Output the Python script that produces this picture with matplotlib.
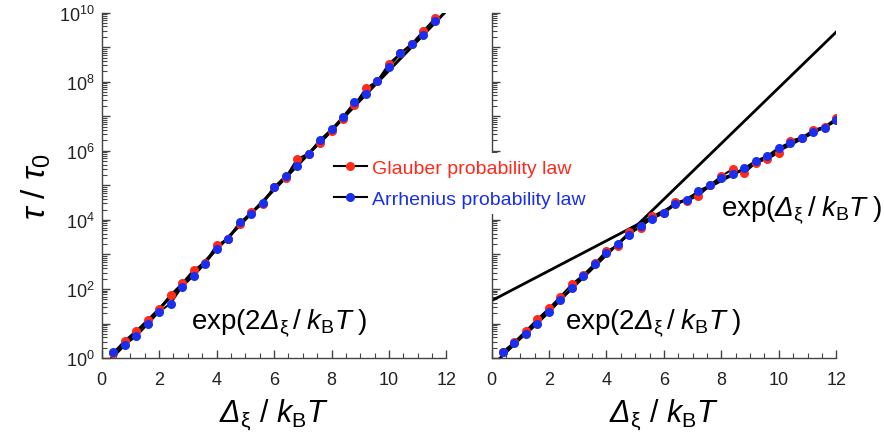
import numpy as np
import matplotlib
matplotlib.use("Agg")
import matplotlib.pyplot as plt
from matplotlib.lines import Line2D
from matplotlib.ticker import LogLocator, FixedLocator, MultipleLocator, NullFormatter, FuncFormatter

plt.rcParams['font.family'] = ['Liberation Sans', 'DejaVu Sans']
plt.rcParams['mathtext.fontset'] = 'custom'
plt.rcParams['mathtext.rm'] = 'Liberation Sans'
plt.rcParams['mathtext.it'] = 'Liberation Sans:italic'
plt.rcParams['mathtext.bf'] = 'Liberation Sans:bold'
# sf is used for an italic capital Delta (mathtext forces Greek capitals upright in 'it')
plt.rcParams['mathtext.sf'] = 'Liberation Sans:italic'

RED = '#ff2a1c'
BLUE = '#1a2ef0'

# Δξ / kBT values of the simulated points
x_left = [0.4, 0.8, 1.2, 1.6, 2.0, 2.4, 2.8, 3.2, 3.6, 4.0, 4.4, 4.8, 5.2, 5.6, 6.0,
          6.4, 6.8, 7.2, 7.6, 8.0, 8.4, 8.8, 9.2, 9.6, 10.0, 10.4, 10.8, 11.2, 11.6]
x_right = x_left + [12.0]

# log10(tau/tau0)
glauber_left = [0.15, 0.50, 0.79, 1.10, 1.42, 1.83, 2.16, 2.55, 2.76, 3.27, 3.44, 3.88, 4.23, 4.45, 4.94,
                5.22, 5.76, 5.92, 6.22, 6.56, 6.93, 7.32, 7.81, 8.02, 8.52, 8.82, 9.10, 9.47, 9.83]
arrhenius_left = [0.19, 0.385, 0.63, 0.98, 1.34, 1.58, 2.07, 2.38, 2.73, 3.17, 3.46, 3.93, 4.17, 4.50, 4.95,
                  5.27, 5.55, 5.92, 6.32, 6.62, 6.99, 7.40, 7.65, 8.03, 8.43, 8.82, 9.10, 9.35, 9.76]

glauber_right = [0.17, 0.47, 0.79, 1.13, 1.44, 1.78, 2.14, 2.41, 2.74, 3.10, 3.25, 3.65, 3.78, 4.10, 4.20,
                 4.53, 4.56, 4.69, 5.00, 5.27, 5.47, 5.35, 5.66, 5.76, 5.95, 6.29, 6.38, 6.60, 6.70, 6.94]
arrhenius_right = [0.19, 0.45, 0.69, 1.00, 1.32, 1.68, 2.02, 2.38, 2.72, 3.03, 3.31, 3.57, 3.83, 4.04, 4.19,
                   4.45, 4.58, 4.84, 5.00, 5.21, 5.32, 5.50, 5.71, 5.85, 6.09, 6.24, 6.36, 6.55, 6.67, 6.88]

# theory lines (end points, log10)
left_exp2_x = [0.35, 11.94]
left_exp2_y = [0.0, 10.0]
right_exp2_x = [0.3, 12.0]
right_exp2_y = [0.0, 9.44]
right_exp1_x = [0.0, 12.0]
right_exp1_y = [1.66, 6.87]

DXI = r'\mathsf{\Delta}_{\mathrm{\xi}}'


def setup_axis(ax, show_labels):
    ax.set_yscale('log')
    ax.set_xlim(0, 12)
    ax.set_ylim(1, 1e10)
    for side in ['top', 'right']:
        ax.spines[side].set_visible(False)
    for side in ['left', 'bottom']:
        ax.spines[side].set_color('#444444')
        ax.spines[side].set_linewidth(1.0)
    ax.xaxis.set_major_locator(MultipleLocator(2))
    ax.xaxis.set_minor_locator(MultipleLocator(0.5))
    ax.yaxis.set_major_locator(FixedLocator([10.0 ** k for k in range(11)]))
    ax.yaxis.set_minor_locator(LogLocator(base=10, subs=np.arange(2, 10), numticks=30))
    ax.yaxis.set_minor_formatter(NullFormatter())
    ax.yaxis.set_major_formatter(FuncFormatter(
        lambda v, p: r'$10^{%d}$' % round(np.log10(v)) if round(np.log10(v)) % 2 == 0 else ''))
    ax.tick_params(which='both', direction='in', color='#444444', labelcolor='#222222', labelsize=13)
    ax.tick_params(which='major', length=6, width=1)
    ax.tick_params(which='minor', length=3.5, width=0.8)
    ax.tick_params(axis='x', pad=9)
    ax.tick_params(axis='y', pad=5)
    if not show_labels:
        ax.tick_params(axis='y', labelleft=False)
    ax.set_xlabel(r'$' + DXI + r'\ /\ k_{\mathrm{B}}T$', fontsize=22, labelpad=6)


def draw_points(ax, x, g, a):
    ax.plot(x, 10.0 ** np.array(g), '-', color='k', lw=1.5, zorder=3)
    ax.plot(x, 10.0 ** np.array(a), '-', color='k', lw=1.5, zorder=3)
    ax.plot(x, 10.0 ** np.array(g), 'o', color=RED, ms=6.5, mec='none', zorder=4)
    ax.plot(x, 10.0 ** np.array(a), 'o', color=BLUE, ms=6.5, mec='none', zorder=5)


fig = plt.figure(figsize=(8.84, 4.39), dpi=100)
ax1 = fig.add_axes([0.115, 0.182, 0.390, 0.787])
ax2 = fig.add_axes([0.556, 0.182, 0.390, 0.787])

setup_axis(ax1, True)
setup_axis(ax2, False)

ax1.plot(left_exp2_x, 10.0 ** np.array(left_exp2_y), '-', color='k', lw=2.2, zorder=2)
draw_points(ax1, x_left, glauber_left, arrhenius_left)

ax2.plot(right_exp2_x, 10.0 ** np.array(right_exp2_y), '-', color='k', lw=2, zorder=2)
ax2.plot(right_exp1_x, 10.0 ** np.array(right_exp1_y), '-', color='k', lw=2, zorder=2)
draw_points(ax2, x_right, glauber_right, arrhenius_right)

ax1.set_ylabel(r'$\tau\ /\ \tau_0$', fontsize=24, labelpad=4)

label2 = r'$\mathrm{exp(2}' + DXI + r'\,/\;k_{\mathrm{B}}T\;\mathrm{)}$'
label1 = r'$\mathrm{exp(}' + DXI + r'\,/\;k_{\mathrm{B}}T\;\mathrm{)}$'
ax1.text(3.1, 10 ** 1.04, label2, fontsize=20, ha='left', va='center')
ax2.text(2.55, 10 ** 1.04, label2, fontsize=20, ha='left', va='center')
ax2.text(8.0, 10 ** 4.31, label1, fontsize=20, ha='left', va='center', clip_on=False)

handles = [Line2D([], [], color='k', lw=1.5, marker='o', mfc=RED, mec='none', ms=6.5),
           Line2D([], [], color='k', lw=1.5, marker='o', mfc=BLUE, mec='none', ms=6.5)]
leg = fig.legend(handles, ['Glauber probability law', 'Arrhenius probability law'],
                 loc='center left', bbox_to_anchor=(0.36, 0.58), frameon=True,
                 facecolor='white', edgecolor='none', framealpha=1, fontsize=14,
                 handlelength=1.7, handletextpad=0.25, labelspacing=0.7, borderpad=0.3)
for txt, c in zip(leg.get_texts(), [RED, BLUE]):
    txt.set_color(c)

fig.savefig('out.png', dpi=100)
